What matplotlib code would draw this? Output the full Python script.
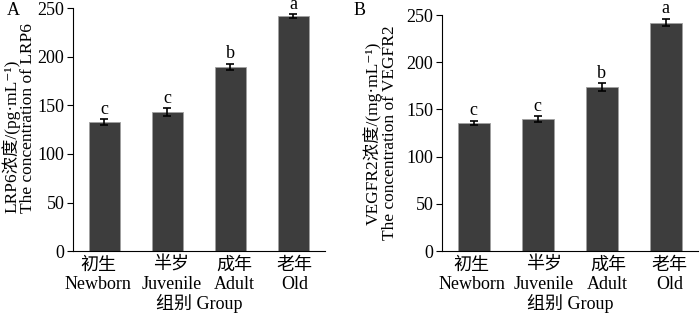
import matplotlib
matplotlib.use("Agg")
import matplotlib.pyplot as plt

plt.rcParams['font.family'] = ['Liberation Serif', 'Noto Sans CJK SC', 'DejaVu Serif']
plt.rcParams['font.size'] = 13

# data
groups_cn = ["初生", "半岁", "成年", "老年"]
groups_en = ["Newborn", "Juvenile", "Adult", "Old"]
lrp6 = [133, 143, 190, 242]
lrp6_err = [3, 4, 3, 2]
lrp6_sig = ["c", "c", "b", "a"]
vegfr2 = [136, 140, 174, 242]
vegfr2_err = [2, 3, 4, 4]
vegfr2_sig = ["c", "c", "b", "a"]

tick_labels = [c + "\n" + e for c, e in zip(groups_cn, groups_en)]

fig = plt.figure(figsize=(7, 3.13), dpi=100)
axA = fig.add_axes([0.104, 0.198, 0.36, 0.775])
axB = fig.add_axes([0.631, 0.198, 0.366, 0.754])


def draw(ax, vals, errs, sig, ylabel, shifts, label_xy, malign, xlab_y):
    x = range(len(vals))
    ax.bar(x, vals, width=0.5, color="#3d3d3d", edgecolor="#a0a0a0", linewidth=0.6,
           yerr=errs, error_kw=dict(ecolor="black", elinewidth=1.2, capsize=3, capthick=1.2))
    for i, (v, e, s) in enumerate(zip(vals, errs, sig)):
        ax.text(i, v + e + 1.5, s, ha="center", va="bottom", fontsize=13)
    ax.set_xlim(-0.5, 3.5)
    ax.set_ylim(0, 250)
    ax.set_yticks([0, 50, 100, 150, 200, 250])
    ax.set_xticks(list(x))
    ax.set_xticklabels([])
    # category labels, nudged sideways a little as in the original
    for i, (lab, dx) in enumerate(zip(tick_labels, shifts)):
        ax.annotate(lab, xy=(i, 0), xycoords=("data", "axes fraction"),
                    xytext=(dx * 0.72, -4), textcoords="offset points",
                    ha="center", va="top", linespacing=1.15)
    ax.tick_params(axis="x", length=0)
    ax.tick_params(axis="y", length=4, direction="out", pad=2)
    ax.spines["top"].set_visible(False)
    ax.spines["right"].set_visible(False)
    ax.set_xlabel("组别 Group")
    ax.xaxis.set_label_coords(0.5, xlab_y)
    ax.set_ylabel(ylabel, linespacing=1.0, multialignment=malign, fontsize=12.5)
    ax.yaxis.set_label_coords(*label_xy)


draw(axA, lrp6, lrp6_err, lrp6_sig, "LRP6浓度/(pg·mL⁻¹)\nThe concentration of LRP6",
     [-6, 4, 4, 1], (-0.145, 0.55), "left", -0.175)
draw(axB, vegfr2, vegfr2_err, vegfr2_sig, "VEGFR2浓度/(mg·mL⁻¹)\nThe concentration of VEGFR2",
     [-2, 6, 6, 4], (-0.17, 0.5), "center", -0.18)

fig.text(0.01, 0.995, "A", ha="left", va="top", fontsize=13)
fig.text(0.505, 0.995, "B", ha="left", va="top", fontsize=13)

fig.savefig("out.png", dpi=100)
